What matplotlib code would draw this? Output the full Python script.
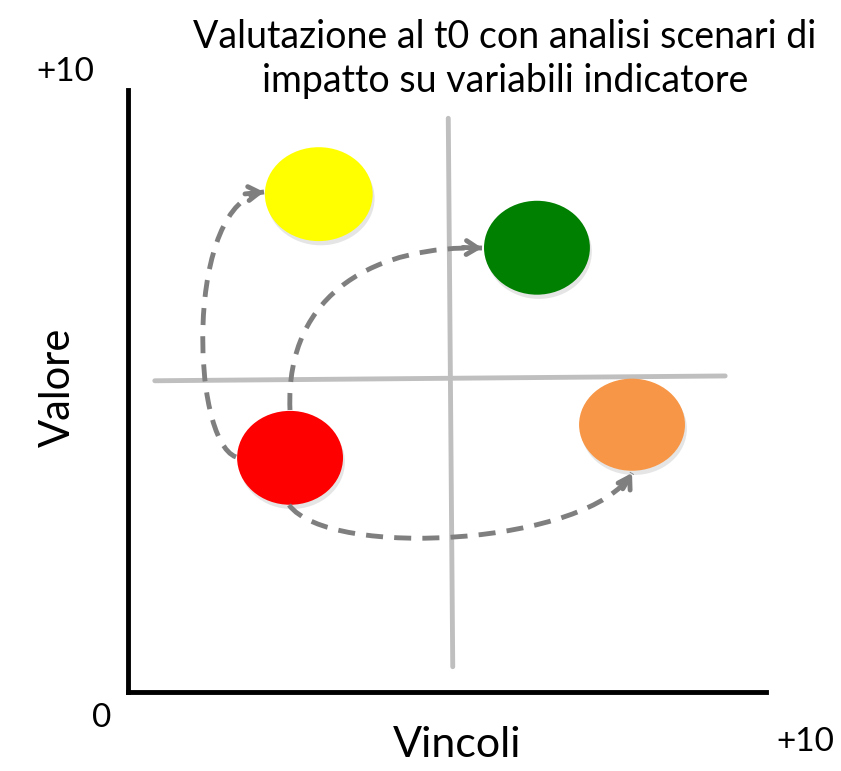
import numpy as np
import matplotlib
matplotlib.use("Agg")
import matplotlib.pyplot as plt
from matplotlib.patches import Ellipse, PathPatch
from matplotlib.path import Path

plt.rcParams['font.family'] = ['Lato', 'DejaVu Sans']

# --- dati (scala 0..10 su entrambi gli assi) ---
scenari = ["rosso", "giallo", "verde", "arancio"]
vincoli = [2.54, 2.99, 6.41, 7.90]      # x del centro
valore = [3.89, 8.27, 7.38, 4.44]       # y del centro
larghezza = [1.66, 1.69, 1.66, 1.66]
altezza = [1.56, 1.56, 1.56, 1.53]
colori = ["#FF0000", "#FFFF00", "#008000", "#F79646"]

# linee dei quadranti (grigie)
quad_v_x = [5.02, 5.09]
quad_v_y = [9.53, 0.42]
quad_h_x = [0.42, 9.36]
quad_h_y = [5.17, 5.25]

# frecce tratteggiate: punti di controllo bezier cubica (x, y)
frecce = [
    [(1.693, 3.904), (0.972, 4.186), (0.893, 8.173), (2.132, 8.306)],
    [(2.539, 4.684), (2.461, 6.678), (3.950, 7.425), (5.549, 7.375)],
    [(2.524, 3.106), (3.166, 2.193), (7.241, 2.442), (7.900, 3.638)],
]

titolo = "Valutazione al t0 con analisi scenari di\nimpatto su variabili indicatore"

W, H = 841, 771
fig = plt.figure(figsize=(W / 100, H / 100), dpi=100)
ax = fig.add_axes([128 / W, 1 - 692 / H, 638 / W, 602 / H])
ax.set_xlim(0, 10)
ax.set_ylim(0, 10)
ax.set_xticks([])
ax.set_yticks([])
for s in ["top", "right"]:
    ax.spines[s].set_visible(False)
for s in ["left", "bottom"]:
    ax.spines[s].set_linewidth(3.5)
    ax.spines[s].set_color("black")

grigio = "#BFBFBF"
ax.plot(quad_v_x, quad_v_y, color=grigio, lw=3.5, solid_capstyle="round", zorder=1)
ax.plot(quad_h_x, quad_h_y, color=grigio, lw=3.5, solid_capstyle="round", zorder=1)

# ellissi con ombra leggera
for x, y, w, h, c in zip(vincoli, valore, larghezza, altezza, colori):
    ombra = Ellipse((x + 0.03, y - 0.07), w, h, color="#999999", alpha=0.25, lw=0, zorder=2)
    ax.add_patch(ombra)
    ax.add_patch(Ellipse((x, y), w, h, color=c, lw=0, zorder=3))

# frecce
cf = "#7F7F7F"
for pts in frecce:
    path = Path(pts, [Path.MOVETO, Path.CURVE4, Path.CURVE4, Path.CURVE4])
    ax.add_patch(PathPatch(path, fill=False, edgecolor=cf, lw=3.5,
                           linestyle=(0, (3.5, 2.3)), zorder=4))
    p2 = np.array(pts[2])
    p3 = np.array(pts[3])
    d = (p3 - p2) / np.linalg.norm(p3 - p2)
    ax.annotate("", xy=p3, xytext=p3 - 0.3 * d,
                arrowprops=dict(arrowstyle="->,head_length=0.8,head_width=0.5",
                                color=cf, lw=3.5, shrinkA=0, shrinkB=0),
                zorder=5)

# testi
fig.text(505 / W, 1 - 59 / H, titolo, ha="center", va="center", fontsize=27,
         linespacing=1.25)
fig.text(65 / W, 1 - 72 / H, "+10", ha="center", va="center", fontsize=24)
fig.text(102 / W, 1 - 718 / H, "0", ha="center", va="center", fontsize=24)
fig.text(805 / W, 1 - 742 / H, "+10", ha="center", va="center", fontsize=24)
fig.text(457 / W, 1 - 745 / H, "Vincoli", ha="center", va="center", fontsize=31)
fig.text(58 / W, 1 - 387 / H, "Valore", ha="center", va="center", fontsize=30,
         rotation=90)

fig.savefig("out.png", dpi=100)
